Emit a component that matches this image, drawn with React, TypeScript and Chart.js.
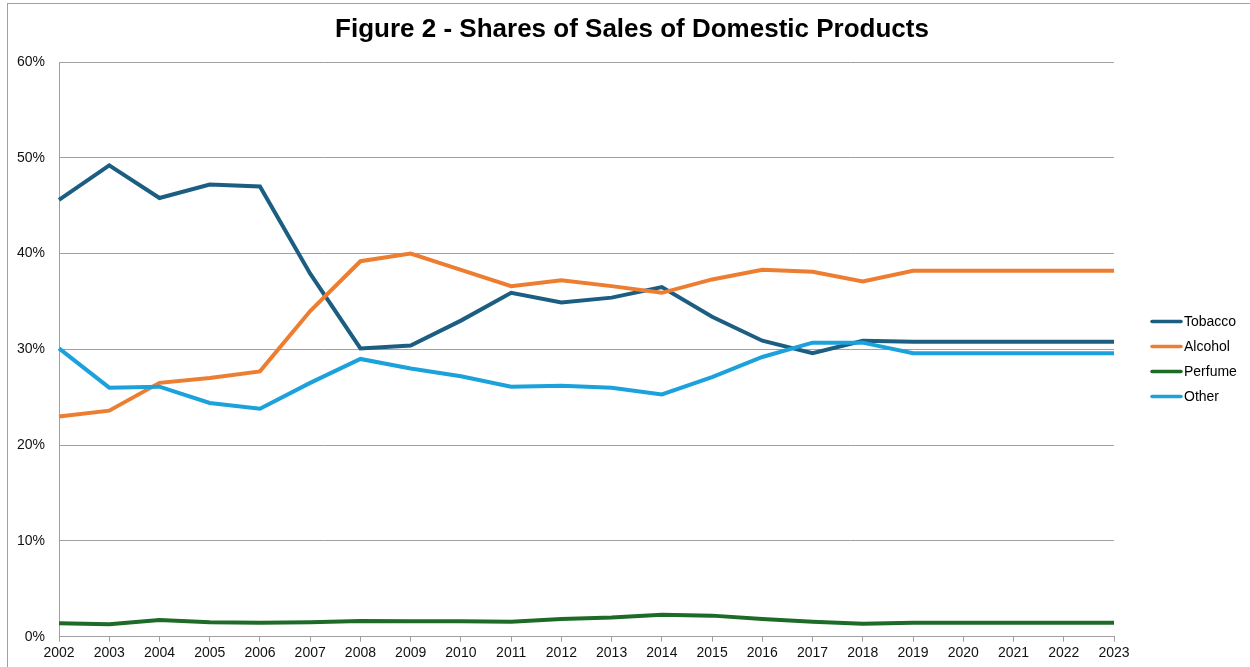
import React, { useEffect, useRef } from "react";
import { Chart, registerables } from "chart.js";

Chart.register(...registerables);

const years = ["2002","2003","2004","2005","2006","2007","2008","2009","2010","2011","2012","2013","2014","2015","2016","2017","2018","2019","2020","2021","2022","2023"];
const tobacco = [45.6, 49.2, 45.8, 47.2, 47.0, 37.9, 30.1, 30.4, 33.0, 35.9, 34.9, 35.4, 36.5, 33.4, 30.9, 29.6, 30.9, 30.8, 30.8, 30.8, 30.8, 30.8];
const alcohol = [23.0, 23.6, 26.5, 27.0, 27.7, 34.0, 39.2, 40.0, 38.3, 36.6, 37.2, 36.6, 35.9, 37.3, 38.3, 38.1, 37.1, 38.2, 38.2, 38.2, 38.2, 38.2];
const perfume = [1.4, 1.3, 1.75, 1.5, 1.45, 1.5, 1.65, 1.6, 1.6, 1.55, 1.85, 2.0, 2.3, 2.2, 1.85, 1.55, 1.35, 1.45, 1.45, 1.45, 1.45, 1.45];
const other = [30.1, 26.0, 26.1, 24.4, 23.8, 26.5, 29.0, 28.0, 27.2, 26.1, 26.2, 26.0, 25.3, 27.1, 29.2, 30.7, 30.7, 29.6, 29.6, 29.6, 29.6, 29.6];
const seriesNames = ["Tobacco", "Alcohol", "Perfume", "Other"];
const seriesColors = ["#1b5e82", "#ed7d31", "#1e6b28", "#1ba1db"];
const titleText = "Figure 2 - Shares of Sales of Domestic Products";

const FONT = "'Liberation Sans', Arial, sans-serif";

const decorPlugin = {
  id: "decor",
  beforeDraw(chart: any) {
    const ctx = chart.ctx;
    ctx.save();
    ctx.fillStyle = "#ffffff";
    ctx.fillRect(0, 0, chart.width, chart.height);
    ctx.strokeStyle = "#a0a0a0";
    ctx.lineWidth = 1;
    ctx.strokeRect(7.5, 3.5, chart.width + 20, chart.height + 20);
    ctx.restore();
  },
  afterDraw(chart: any) {
    const ctx = chart.ctx;
    ctx.save();
    ctx.fillStyle = "#000000";
    ctx.font = `bold 26px ${FONT}`;
    ctx.textAlign = "center";
    ctx.textBaseline = "middle";
    ctx.fillText(titleText, 632, 30);
    ctx.font = `14px ${FONT}`;
    ctx.textAlign = "left";
    const dsets = chart.data.datasets;
    for (let i = 0; i < dsets.length; i++) {
      const y = 321.5 + i * 25;
      ctx.strokeStyle = dsets[i].borderColor;
      ctx.lineWidth = 3.5;
      ctx.lineCap = "round";
      ctx.beginPath();
      ctx.moveTo(1152, y);
      ctx.lineTo(1181, y);
      ctx.stroke();
      ctx.fillStyle = "#000000";
      ctx.fillText(dsets[i].label, 1184, y + 0.5);
    }
    ctx.restore();
  },
};

export default function App() {
  const ref = useRef<HTMLCanvasElement | null>(null);
  useEffect(() => {
    if (!ref.current) return;
    const values = [tobacco, alcohol, perfume, other];
    const chart = new Chart(ref.current, {
      type: "line",
      data: {
        labels: years,
        datasets: seriesNames.map((name, i) => ({
          label: name,
          data: values[i],
          borderColor: seriesColors[i],
          backgroundColor: seriesColors[i],
          borderWidth: 4,
          pointRadius: 0,
          tension: 0,
          fill: false,
          order: 3 - i,
        })),
      },
      options: {
        animation: false,
        responsive: false,
        devicePixelRatio: 1,
        layout: { padding: { left: 0, right: 136, top: 62, bottom: 0 } },
        plugins: {
          legend: { display: false },
          title: { display: false },
          tooltip: { enabled: false },
        },
        scales: {
          x: {
            type: "category",
            offset: false,
            grid: {
              display: true,
              drawOnChartArea: false,
              drawTicks: true,
              tickLength: 5,
              color: "#a0a0a0",
            },
            border: { display: true, color: "#a0a0a0", width: 1 },
            ticks: {
              autoSkip: false,
              maxRotation: 0,
              padding: 3,
              color: "#111111",
              font: { family: FONT, size: 14 },
            },
            afterFit(scale: any) {
              scale.height = 30.3;
            },
          },
          y: {
            min: 0,
            max: 60,
            ticks: {
              stepSize: 10,
              padding: 14,
              color: "#111111",
              font: { family: FONT, size: 14 },
              callback: (v: any) => `${v}%`,
            },
            grid: { color: "#a0a0a0", lineWidth: 1, drawTicks: false },
            border: { display: true, color: "#a0a0a0", width: 1 },
            afterFit(scale: any) {
              scale.width = 59;
            },
          },
        },
      },
      plugins: [decorPlugin],
    });
    return () => chart.destroy();
  }, []);
  return (
    <div style={{ position: "fixed", left: 0, top: 0, width: 1250, height: 667, background: "#fff" }}>
      <canvas ref={ref} width={1250} height={667} style={{ display: "block", width: 1250, height: 667 }} />
    </div>
  );
}
